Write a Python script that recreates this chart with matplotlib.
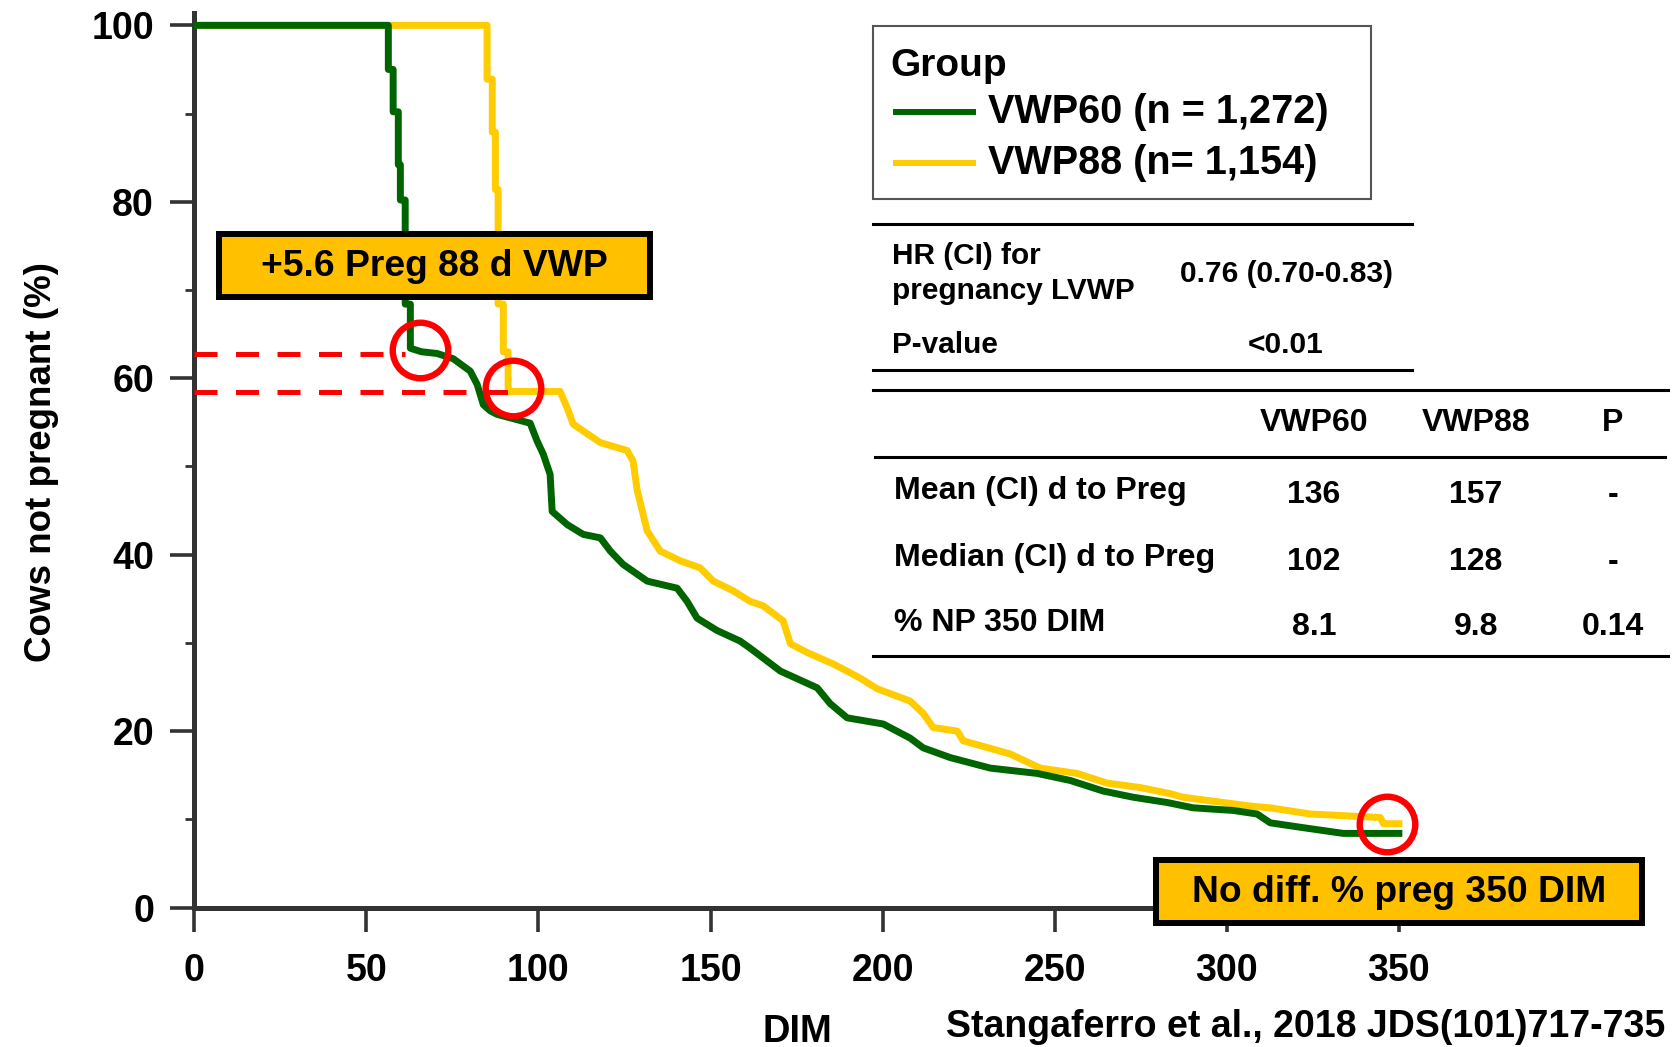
import matplotlib
matplotlib.use("Agg")
import matplotlib.pyplot as plt
from matplotlib.patches import Rectangle
from matplotlib.lines import Line2D
from matplotlib.ticker import MultipleLocator

W, H = 1673, 1047
plt.rcParams.update({"font.family": "Liberation Sans", "font.weight": "bold",
                     "axes.labelweight": "bold"})

GREEN = "#006400"
YELLOW = "#FFCC00"
GOLD = "#FFC000"
RED = "#FF0000"
AXC = "#333333"

# ── KM curves (DIM, % not pregnant) ──────────────────────────────────────────
t60 = [0, 56.4, 56.4, 57.8, 57.8, 59.3, 59.3, 59.9, 59.9, 61.3, 61.3, 62.8, 62.8, 66,
       70.6, 75.3, 80.2, 82.2, 84, 86, 88, 93.8, 97.6, 99.6, 101.4, 103.4, 104, 108.4,
       113, 118, 120.9, 124.6, 131.6, 140.3, 143.2, 146.1, 151.9, 158.6, 161.5, 170.3,
       181, 184.8, 189.7, 200.2, 208, 211.8, 219.6, 231.3, 244.9, 254.5, 264.1, 272.8,
       282.7, 290.2, 301.9, 308.8, 312.6, 321.3, 333.8, 350]
s60 = [100, 100, 95.0, 95.0, 90.2, 90.2, 84.2, 84.2, 80.2, 80.2, 68.4, 68.4, 63.4, 63.0,
       62.8, 62.2, 60.8, 59.3, 57.0, 56.3, 55.9, 55.3, 54.9, 52.9, 51.4, 49.1, 44.9, 43.4,
       42.3, 41.9, 40.4, 38.9, 37.0, 36.2, 34.7, 32.8, 31.4, 30.2, 29.4, 26.8,
       24.9, 23.1, 21.5, 20.8, 19.2, 18.1, 17.0, 15.8, 15.2, 14.4, 13.2, 12.5,
       11.9, 11.3, 11.0, 10.6, 9.6, 9.1, 8.4, 8.4]

t88 = [0, 85.1, 85.1, 86.6, 86.6, 87.5, 87.5, 88.3, 88.3, 89.8, 89.8, 91.2, 91.2, 106.3,
       108.4, 110.1, 114.2, 118, 125.8, 127.5, 128.7, 131.6, 135.4, 141.2, 147, 150.8,
       156.6, 161.5, 165.3, 171.1, 173.2, 178.1, 185.7, 193.5, 198.4, 208, 211.8, 214.7,
       221.7, 223.4, 237.1, 245.8, 256.5, 265.2, 274.8, 283.6, 287.3, 299, 306.8, 312.6,
       324.2, 344.6, 345.5, 350]
s88 = [100, 100, 93.9, 93.9, 87.9, 87.9, 81.4, 81.4, 68.4, 68.4, 63.0, 63.0, 58.5, 58.5,
       56.6, 54.8, 53.7, 52.7, 51.8, 50.6, 47.3, 42.7, 40.4, 39.3, 38.5, 37.0,
       35.9, 34.7, 34.2, 32.5, 29.9, 28.9, 27.6, 26.0, 24.8, 23.4, 22.0, 20.4,
       20.0, 18.9, 17.4, 15.8, 15.2, 14.1, 13.6, 12.9, 12.5, 11.9, 11.5, 11.3,
       10.6, 10.2, 9.5, 9.5]

# highlighted points and reference lines
circle_x = [65.6, 92.5, 346.4]
circle_y = [63.2, 58.9, 9.5]
dash_y = [62.7, 58.4]
dash_end = [61.2, 91.5]

labels = ["VWP60 (n = 1,272)", "VWP88 (n= 1,154)"]
hr_label = ["HR (CI) for", "pregnancy LVWP", "P-value"]
hr_vals = ["0.76 (0.70-0.83)", "<0.01"]
tbl_cols = ["VWP60", "VWP88", "P"]
tbl_rows = ["Mean (CI) d to Preg", "Median (CI) d to Preg", "% NP 350 DIM"]
tbl_vals = [["136", "157", "-"], ["102", "128", "-"], ["8.1", "9.8", "0.14"]]


def fx(x):
    return x / W


def fy(y):
    return 1 - y / H


def rule(x0, x1, y, lw=2.2):
    fig.add_artist(Line2D([fx(x0), fx(x1)], [fy(y), fy(y)], transform=fig.transFigure,
                          color="black", lw=lw, zorder=11))


fig = plt.figure(figsize=(W / 100, H / 100), dpi=100)
ax = fig.add_axes([fx(194.2), fy(907.5), fx(1571) - fx(194.2), fy(13) - fy(907.5)])

ax.plot(t60, s60, color=GREEN, lw=5, zorder=3)
ax.plot(t88, s88, color=YELLOW, lw=5, zorder=2)
for yv, xe in zip(dash_y, dash_end):
    ax.plot([0, xe], [yv, yv], color=RED, lw=3.6, linestyle=(0, (4.6, 3.7)), zorder=4)
ax.plot(circle_x, circle_y, "o", ms=40, mfc="none", mec=RED, mew=4.6, zorder=5, clip_on=False)

ax.set_xlim(0, 400)
ax.set_ylim(0, 101.4)
ax.set_xticks(range(0, 351, 50))
ax.set_yticks(range(0, 101, 20))
ax.yaxis.set_minor_locator(MultipleLocator(10))
for s in ["top", "right"]:
    ax.spines[s].set_visible(False)
for s in ["left", "bottom"]:
    ax.spines[s].set_linewidth(3.6)
    ax.spines[s].set_color(AXC)
ax.tick_params(which="major", length=17, width=2.6, color=AXC, labelsize=27, pad=12)
ax.tick_params(axis="x", which="major", pad=15.5)
ax.tick_params(axis="y", which="minor", length=6.5, width=2.0, color=AXC)

ax.set_xlabel("DIM", fontsize=27.5, va="center")
ax.xaxis.set_label_coords((797 - 194.2) / 1376.8, (907.5 - 1032) / 894.5)
ax.set_ylabel("Cows not pregnant (%)", fontsize=26.5, va="center", ha="center")
ax.yaxis.set_label_coords((42 - 194.2) / 1376.8, (907.5 - 462) / 894.5)

# ── legend ───────────────────────────────────────────────────────────────────
fig.add_artist(Rectangle((fx(873), fy(199)), fx(1371) - fx(873), fy(25.6) - fy(199),
                         transform=fig.transFigure, fc="white", ec="#555555", lw=1.5, zorder=10))
fig.text(fx(890), fy(66), "Group", fontsize=28, va="center", ha="left", zorder=11)
for lab, col, yy in zip(labels, [GREEN, YELLOW], [112, 163]):
    fig.add_artist(Line2D([fx(896), fx(973)], [fy(yy), fy(yy)], transform=fig.transFigure,
                          color=col, lw=4.3, zorder=11))
    fig.text(fx(988), fy(yy), lab, fontsize=28.5, va="center", ha="left", zorder=11)

# ── HR table ─────────────────────────────────────────────────────────────────
rule(873, 1412, 224)
rule(873, 1412, 370)
for yy, txt in zip([256, 291, 345], hr_label):
    fig.text(fx(892), fy(yy), txt, fontsize=21.4, va="center", ha="left")
for yy, txt in zip([274, 345], hr_vals):
    fig.text(fx(1286), fy(yy), txt, fontsize=21.5, va="center", ha="center")

# ── summary table ────────────────────────────────────────────────────────────
rule(873, 1668, 390)
rule(875, 1665, 457)
rule(873, 1668, 656)
col_x = [1314, 1476, 1613]
for cx, c in zip(col_x, tbl_cols):
    fig.text(fx(cx), fy(423), c, fontsize=23, va="center", ha="center")
for ry, r, vals in zip([491, 558, 623], tbl_rows, tbl_vals):
    fig.text(fx(894), fy(ry), r, fontsize=23.1, va="center", ha="left")
    for cx, v in zip(col_x, vals):
        fig.text(fx(cx), fy(ry + 4), v, fontsize=23, va="center", ha="center")

# ── callout boxes ────────────────────────────────────────────────────────────
for (x0, y0, x1, y1), txt in [((218.5, 234.5, 650, 297), "+5.6 Preg 88 d VWP"),
                              ((1156, 860, 1642, 923), "No diff. % preg 350 DIM")]:
    fig.add_artist(Rectangle((fx(x0), fy(y1)), fx(x1) - fx(x0), fy(y0) - fy(y1),
                             transform=fig.transFigure, fc=GOLD, ec="black", lw=4.3, zorder=10))
    fig.text(fx((x0 + x1) / 2), fy((y0 + y1) / 2 + 1), txt, fontsize=26.8,
             va="center", ha="center", zorder=11)

fig.text(fx(946), fy(1027), "Stangaferro et al., 2018 JDS(101)717-735", fontsize=27,
         va="center", ha="left")

fig.savefig("out.png", dpi=100)
